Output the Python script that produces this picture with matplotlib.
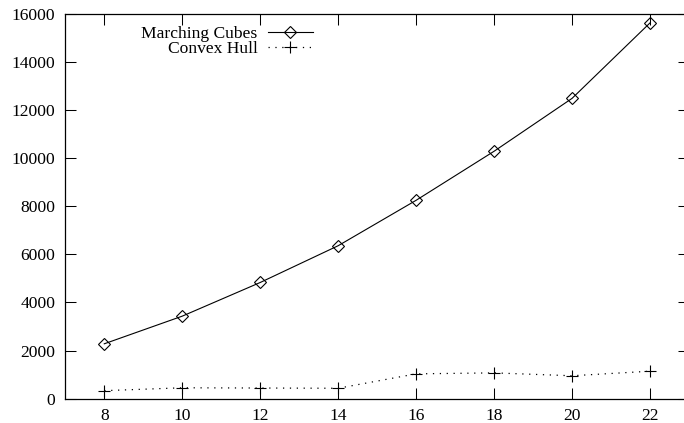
import matplotlib
matplotlib.use("Agg")
import matplotlib.pyplot as plt

x_values = [8, 10, 12, 14, 16, 18, 20, 22]
marching_cubes = [2280, 3430, 4830, 6360, 8250, 10290, 12490, 15630]
convex_hull = [330, 450, 440, 430, 1030, 1070, 950, 1140]
series_labels = ["Marching Cubes", "Convex Hull"]
x_ticks = [8, 10, 12, 14, 16, 18, 20, 22]
y_ticks = [0, 2000, 4000, 6000, 8000, 10000, 12000, 14000, 16000]

plt.rcParams["font.family"] = ["Liberation Serif", "DejaVu Serif"]
plt.rcParams["font.size"] = 12.6

fig = plt.figure(figsize=(6.84, 4.23), dpi=100)
W, H = 684, 423
left, right, top, bottom = 65.3, 689.0, 14.0, 398.6
ax = fig.add_axes([left / W, (H - bottom) / H, (right - left) / W, (bottom - top) / H])

ax.plot(x_values, marching_cubes, color="black", linewidth=0.8, marker="D",
        markersize=6.5, markerfacecolor="none", markeredgecolor="black",
        markeredgewidth=0.8, label=series_labels[0])
ax.plot(x_values, convex_hull, color="black", linewidth=0.9, linestyle=(0, (1, 4.5)),
        marker="+", markersize=9, markeredgewidth=0.8, label=series_labels[1])

ax.set_xlim(7, 23)
ax.set_ylim(0, 16000)
ax.set_xticks(x_ticks)
ax.set_yticks(y_ticks)
ax.tick_params(direction="in", length=7.9, width=0.75, top=True, right=True,
               labelsize=12.6, colors="black")
ax.tick_params(axis="y", pad=7.2)
ax.tick_params(axis="x", pad=6.5)
for s in ax.spines.values():
    s.set_linewidth(0.9)

leg = ax.legend(loc="upper right", bbox_to_anchor=((313 - left) / (right - left), (bottom - 26) / (bottom - top)),
                frameon=False, markerfirst=False, borderpad=0, borderaxespad=0,
                handlelength=2.6, handletextpad=0.57, labelspacing=-0.07, fontsize=12.6)

fig.savefig("out.png", dpi=100)
